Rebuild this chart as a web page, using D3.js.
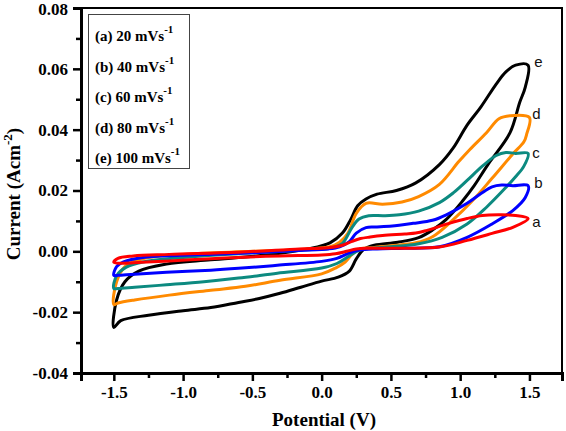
<!DOCTYPE html>
<html>
<head>
<meta charset="utf-8">
<script src="https://cdn.jsdelivr.net/npm/d3@7"></script>
<style>
  html, body { margin: 0; padding: 0; background: #fff; }
  svg { display: block; }
</style>
</head>
<body>
<svg id="chart" width="566" height="431"></svg>
<script>
// ---------- data ----------
const seriesNames = ["a", "b", "c", "d", "e"];
const legendLabels = ["(a) 20 mVs", "(b) 40 mVs", "(c) 60 mVs", "(d) 80 mVs", "(e) 100 mVs"];
const xTickValues = [-1.5, -1.0, -0.5, 0.0, 0.5, 1.0, 1.5];
const yTickValues = [-0.04, -0.02, 0.00, 0.02, 0.04, 0.06, 0.08];

// [potential (V), current (A cm^-2)] around each closed CV loop
const curveA = [
  [-1.50,-0.0036],[-1.47,-0.0023],[-1.36,-0.0015],[-1.10,-0.0010],[-0.60,-0.0003],
  [-0.16,0.0008],[0.05,0.0012],[0.15,0.0020],[0.22,0.0033],[0.28,0.0042],[0.35,0.0047],
  [0.44,0.0052],[0.60,0.0057],[0.68,0.0060],[0.76,0.0069],[0.92,0.0092],[1.05,0.0108],
  [1.16,0.0118],[1.28,0.0120],[1.40,0.0118],[1.49,0.0108],[1.38,0.0079],[1.23,0.0059],
  [1.05,0.0036],[0.85,0.0014],[0.60,0.0010],[0.35,0.0010],[0.25,0.0008],[0.18,0.0000],
  [0.10,-0.0008],[0.00,-0.0012],[-0.30,-0.0015],[-0.60,-0.0020],[-0.80,-0.0024],
  [-1.10,-0.0032],[-1.30,-0.0036],[-1.45,-0.0039]
];
const curveB = [
  [-1.50,-0.0079],[-1.48,-0.0050],[-1.43,-0.0035],[-1.29,-0.0020],[-1.00,-0.0013],
  [-0.50,-0.0005],[-0.16,0.0003],[0.05,0.0008],[0.13,0.0015],[0.20,0.0032],[0.25,0.0060],
  [0.32,0.0078],[0.40,0.0080],[0.56,0.0086],[0.66,0.0092],[0.80,0.0102],[0.90,0.0120],
  [1.05,0.0158],[1.15,0.0190],[1.23,0.0212],[1.30,0.0218],[1.38,0.0216],[1.49,0.0216],
  [1.47,0.0177],[1.38,0.0134],[1.23,0.0090],[1.05,0.0046],[0.85,0.0015],[0.60,0.0010],
  [0.40,0.0008],[0.27,0.0004],[0.20,-0.0005],[0.11,-0.0023],[0.00,-0.0033],
  [-0.32,-0.0046],[-0.60,-0.0056],[-0.80,-0.0062],[-1.12,-0.0069],[-1.35,-0.0075],
  [-1.47,-0.0079]
];
const curveC = [
  [-1.50,-0.0122],[-1.48,-0.0080],[-1.41,-0.0052],[-1.29,-0.0035],[-1.00,-0.0020],
  [-0.50,-0.0005],[-0.10,0.0005],[0.08,0.0012],[0.15,0.0026],[0.22,0.0079],[0.27,0.0106],
  [0.34,0.0117],[0.45,0.0117],[0.56,0.0120],[0.70,0.0132],[0.85,0.0160],[0.95,0.0192],
  [1.05,0.0233],[1.16,0.0280],[1.26,0.0315],[1.33,0.0325],[1.40,0.0322],[1.49,0.0322],
  [1.46,0.0280],[1.40,0.0245],[1.33,0.0210],[1.19,0.0145],[1.05,0.0090],[0.87,0.0046],
  [0.70,0.0025],[0.50,0.0015],[0.35,0.0010],[0.27,0.0003],[0.20,-0.0015],[0.11,-0.0040],
  [0.00,-0.0055],[-0.32,-0.0072],[-0.60,-0.0088],[-0.85,-0.0100],[-1.12,-0.0110],
  [-1.35,-0.0118],[-1.47,-0.0122]
];
const curveD = [
  [-1.50,-0.0175],[-1.48,-0.0100],[-1.42,-0.0050],[-1.30,-0.0025],[-1.00,-0.0010],
  [-0.50,0.0000],[-0.10,0.0008],[0.06,0.0015],[0.13,0.0030],[0.19,0.0060],[0.25,0.0125],
  [0.32,0.0158],[0.44,0.0155],[0.58,0.0162],[0.70,0.0180],[0.85,0.0220],[0.99,0.0295],
  [1.07,0.0335],[1.19,0.0390],[1.28,0.0436],[1.36,0.0446],[1.50,0.0440],[1.48,0.0385],
  [1.46,0.0360],[1.38,0.0320],[1.23,0.0240],[1.09,0.0167],[0.94,0.0100],[0.80,0.0048],
  [0.68,0.0028],[0.50,0.0018],[0.38,0.0013],[0.28,0.0008],[0.22,-0.0010],[0.17,-0.0035],
  [0.10,-0.0055],[0.00,-0.0074],[-0.30,-0.0095],[-0.55,-0.0115],[-0.80,-0.0128],
  [-1.10,-0.0144],[-1.35,-0.0160],[-1.47,-0.0170]
];
const curveE = [
  [-1.50,-0.0250],[-1.48,-0.0160],[-1.42,-0.0100],[-1.32,-0.0065],[-1.12,-0.0042],
  [-0.80,-0.0028],[-0.40,-0.0012],[-0.10,0.0008],[0.06,0.0028],[0.15,0.0060],[0.21,0.0105],
  [0.26,0.0150],[0.32,0.0172],[0.40,0.0188],[0.54,0.0200],[0.68,0.0225],[0.85,0.0285],
  [0.95,0.0340],[1.05,0.0415],[1.15,0.0475],[1.26,0.0550],[1.33,0.0590],[1.40,0.0612],
  [1.49,0.0612],[1.47,0.0540],[1.43,0.0490],[1.36,0.0390],[1.20,0.0285],[1.10,0.0215],
  [1.02,0.0167],[0.90,0.0105],[0.80,0.0070],[0.70,0.0045],[0.55,0.0030],[0.38,0.0020],
  [0.30,0.0005],[0.25,-0.0025],[0.20,-0.0065],[0.12,-0.0085],[0.00,-0.0098],
  [-0.15,-0.0118],[-0.30,-0.0138],[-0.45,-0.0155],[-0.60,-0.0168],[-0.80,-0.0185],
  [-1.00,-0.0195],[-1.25,-0.0210],[-1.45,-0.0228]
];
const curves = [curveA, curveB, curveC, curveD, curveE];
const colors = ["#ff0000", "#0000ff", "#0c8a80", "#ff8a00", "#000000"];
// where each curve's letter sits [potential, current]
const labelPos = [[1.52, 0.0079], [1.535, 0.0207], [1.52, 0.0307], [1.52, 0.0436], [1.535, 0.0607]];

// ---------- layout ----------
const svg = d3.select("#chart");
const L = 81, R = 562, T = 8, B = 373;
const x = d3.scaleLinear().domain([-1.737, 1.735]).range([L, R]);
const y = d3.scaleLinear().domain([-0.04, 0.08]).range([B, T]);

// curves (draw e first, a last)
const line = d3.line()
  .x(d => x(d[0])).y(d => y(d[1]))
  .curve(d3.curveCatmullRomClosed.alpha(0.5));
const order = [4, 3, 2, 1, 0];
svg.append("g").selectAll("path")
  .data(order)
  .join("path")
  .attr("d", k => line(curves[k]))
  .attr("fill", "none")
  .attr("stroke", k => colors[k])
  .attr("stroke-width", 3)
  .attr("stroke-linejoin", "round");

// frame
svg.append("rect")
  .attr("x", L).attr("y", T).attr("width", R - L).attr("height", B - T)
  .attr("fill", "none").attr("stroke", "#000").attr("stroke-width", 2);

const fontSerif = "'Liberation Serif','Times New Roman',serif";

// axes
const xMinor = [-1.25, -0.75, -0.25, 0.25, 0.75, 1.25];
const yMinor = [-0.03, -0.01, 0.01, 0.03, 0.05, 0.07];

const xAxis = svg.append("g").attr("transform", `translate(0,${B})`)
  .call(d3.axisBottom(x).tickValues(xTickValues).tickSize(8).tickPadding(5));
const xAxisMinor = svg.append("g").attr("transform", `translate(0,${B})`)
  .call(d3.axisBottom(x).tickValues(xMinor).tickSize(5).tickFormat(""));
const yAxis = svg.append("g").attr("transform", `translate(${L},0)`)
  .call(d3.axisLeft(y).tickValues(yTickValues).tickSize(8).tickPadding(5));
const yAxisMinor = svg.append("g").attr("transform", `translate(${L},0)`)
  .call(d3.axisLeft(y).tickValues(yMinor).tickSize(5).tickFormat(""));

[xAxis, xAxisMinor, yAxis, yAxisMinor].forEach(g => {
  g.select(".domain").attr("stroke", "#000").attr("stroke-width", 3);
  g.selectAll(".tick line").attr("stroke", "#000").attr("stroke-width", 2.5);
  g.selectAll(".tick text")
    .attr("fill", "#000")
    .style("font-family", fontSerif)
    .style("font-weight", "bold")
    .style("font-size", "17px");
});
xAxis.selectAll(".tick text").text(d => d3.format(".1f")(d).replace("\u2212", "-"));
yAxis.selectAll(".tick text").text(d => d3.format(".2f")(d).replace("\u2212", "-"))
  .attr("dy", d => d === 0.08 ? "0.40em" : "0.32em");

// axis titles
svg.append("text")
  .attr("x", 324).attr("y", 426)
  .attr("text-anchor", "middle")
  .style("font-family", fontSerif).style("font-weight", "bold").style("font-size", "19px")
  .text("Potential (V)");

const yt = svg.append("text")
  .attr("transform", "translate(20,194) rotate(-90)")
  .attr("text-anchor", "middle")
  .style("font-family", fontSerif).style("font-weight", "bold").style("font-size", "19px");
yt.append("tspan").text("Current (Acm");
yt.append("tspan").attr("dy", -8).style("font-size", "13px").text("-2");
yt.append("tspan").attr("dy", 8).text(")");

// legend
svg.append("rect")
  .attr("x", 88.5).attr("y", 14.5).attr("width", 101).attr("height", 154)
  .attr("fill", "#fff").attr("stroke", "#444").attr("stroke-width", 1);
const legend = svg.append("g");
legendLabels.forEach((lab, i) => {
  const t = legend.append("text")
    .attr("x", 95).attr("y", 41 + i * 30.5)
    .style("font-family", fontSerif).style("font-weight", "bold").style("font-size", "15px");
  t.append("tspan").text(lab);
  t.append("tspan").attr("dy", -8).style("font-size", "11px").text("-1");
});

// curve labels
svg.append("g").selectAll("text")
  .data(seriesNames)
  .join("text")
  .attr("x", (d, i) => x(labelPos[i][0]))
  .attr("y", (d, i) => y(labelPos[i][1]))
  .style("font-family", "'Liberation Sans',Arial,sans-serif")
  .style("font-size", "15px")
  .attr("fill", "#111")
  .text(d => d);
</script>
</body>
</html>
